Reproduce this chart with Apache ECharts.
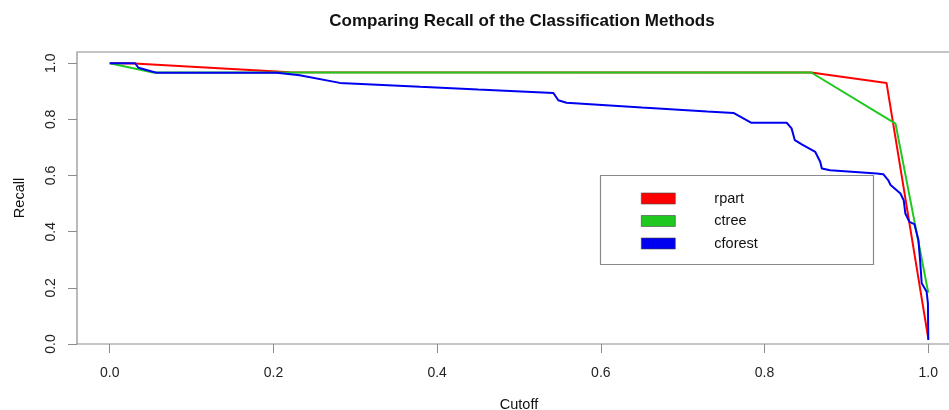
<!DOCTYPE html>
<html>
<head>
<meta charset="utf-8">
<script src="https://cdn.jsdelivr.net/npm/echarts@6/dist/echarts.min.js"></script>
<style>
  html, body { margin: 0; padding: 0; background: #fff; }
  #chart { width: 949px; height: 410px; }
</style>
</head>
<body>
<div id="chart"></div>
<script>
// tick labels
var xTicks = [0, 0.2, 0.4, 0.6, 0.8, 1.0];
var yTicks = [0, 0.2, 0.4, 0.6, 0.8, 1.0];

// rpart
var rpartCutoff = [0, 0.03, 0.22, 0.857, 0.949, 1.0];
var rpartRecall = [1.0, 0.999, 0.968, 0.967, 0.930, 0.02];

// ctree
var ctreeCutoff = [0, 0.053, 0.857, 0.960, 1.0];
var ctreeRecall = [1.0, 0.967, 0.967, 0.785, 0.183];

// cforest
var cforestCutoff = [0, 0.031, 0.035, 0.057, 0.204, 0.232, 0.281, 0.379, 0.45, 0.542, 0.548, 0.558, 0.65, 0.73, 0.762,
  0.784, 0.827, 0.833, 0.837, 0.846, 0.862, 0.868, 0.870, 0.880, 0.937, 0.945, 0.951, 0.954, 0.966, 0.970,
  0.972, 0.977, 0.983, 0.988, 0.990, 0.992, 0.998, 0.9996, 1.0];
var cforestRecall = [1.0, 1.0, 0.984, 0.966, 0.966, 0.957, 0.930, 0.916, 0.906, 0.894, 0.868, 0.859, 0.842, 0.828, 0.823,
  0.788, 0.788, 0.768, 0.726, 0.710, 0.684, 0.649, 0.625, 0.619, 0.607, 0.605, 0.584, 0.566, 0.536, 0.512,
  0.465, 0.435, 0.427, 0.370, 0.299, 0.216, 0.186, 0.145, 0.014];

var zip = function(xs, ys){
    return xs.map(function(x, i){ return [x, ys[i]]; });
};

var font = 'Liberation Sans, Arial, sans-serif';
var myChart = echarts.init(document.getElementById('chart'));

var option = {
    animation: false,
    title: {
        text: 'Comparing Recall of the Classification Methods',
        left: 517,
        textAlign: 'center',
        top: 8,
        textStyle: { fontFamily: font, fontSize: 17, fontWeight: 'bold', color: '#111' }
    },
    legend: {
        orient: 'vertical',
        left: 641,
        top: 191,
        icon: 'rect',
        itemWidth: 34,
        itemHeight: 11,
        itemGap: 7.5,
        padding: 0,
        itemStyle: { borderColor: '#444', borderWidth: 0.6 },
        textStyle: { fontFamily: font, fontSize: 14.5, color: '#111', lineHeight: 11, padding: [0, 0, 0, 34] },
        data: ['rpart', 'ctree', 'cforest']
    },
    graphic: [{
        type: 'rect',
        shape: { x: 600.5, y: 175.5, width: 273, height: 89 },
        style: { fill: 'none', stroke: '#8a8a8a', lineWidth: 1.2 },
        z: 100
    }],
    grid: {
        left: 77, top: 52, width: 884, height: 292,
        outerBoundsMode: 'none',
        containLabel: false,
        show: true, borderColor: '#8c8c8c', borderWidth: 1.2
    },
    xAxis: {
        type: 'value',
        min: -0.04, max: 1.04,
        name: 'Cutoff',
        nameLocation: 'middle',
        nameGap: 53,
        nameTextStyle: { fontFamily: font, fontSize: 14.5, color: '#111' },
        axisLine: { show: false, onZero: false },
        splitLine: { show: false },
        axisTick: { show: true, length: 9, customValues: xTicks, lineStyle: { color: '#8c8c8c' } },
        axisLabel: {
            customValues: xTicks, margin: 22,
            fontFamily: font, fontSize: 14, color: '#222',
            formatter: function(v){ return v.toFixed(1); }
        }
    },
    yAxis: {
        type: 'value',
        min: 0, max: 1.04,
        name: 'Recall',
        nameLocation: 'middle',
        nameGap: 50,
        nameRotate: 90,
        nameTextStyle: { fontFamily: font, fontSize: 14.5, color: '#111' },
        axisLine: { show: false, onZero: false },
        splitLine: { show: false },
        axisTick: { show: true, length: 9, customValues: yTicks, lineStyle: { color: '#8c8c8c' } },
        axisLabel: {
            customValues: yTicks, margin: 19, rotate: 90,
            fontFamily: font, fontSize: 14, color: '#222',
            formatter: function(v){ return v.toFixed(1); }
        }
    },
    series: [
        { name: 'rpart', type: 'line', data: zip(rpartCutoff, rpartRecall), showSymbol: false,
          color: '#ff0000', lineStyle: { width: 2, color: '#ff0000' } },
        { name: 'ctree', type: 'line', data: zip(ctreeCutoff, ctreeRecall), showSymbol: false,
          color: '#1ec81e', lineStyle: { width: 2, color: '#1ec81e' } },
        { name: 'cforest', type: 'line', data: zip(cforestCutoff, cforestRecall), showSymbol: false,
          color: '#0000f0', lineStyle: { width: 2, color: '#0000f0' } }
    ]
};

myChart.setOption(option);
</script>
</body>
</html>
